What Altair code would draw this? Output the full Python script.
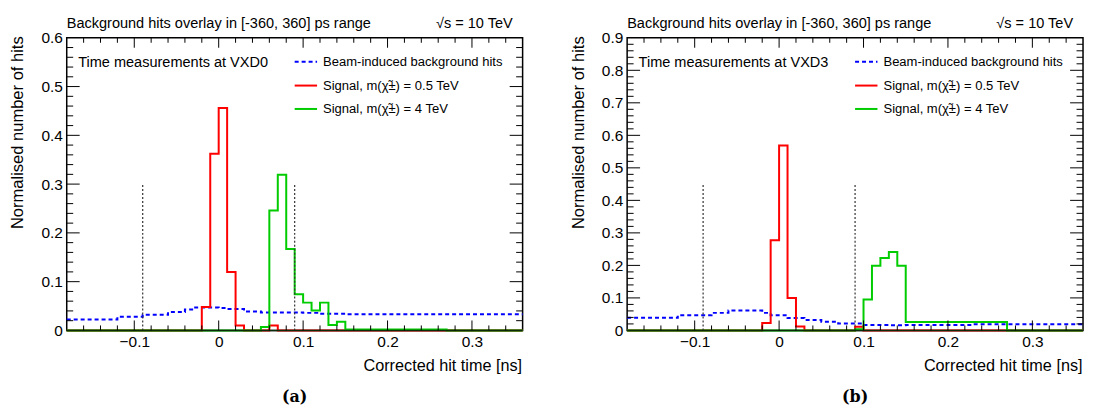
import altair as alt
import pandas as pd

X_MIN, X_MAX = -0.18, 0.36
X_MAJOR = [-0.1, 0.0, 0.1, 0.2, 0.3]
X_MINOR = [-0.16, -0.14, -0.12, -0.08, -0.06, -0.04, -0.02, 0.02, 0.04, 0.06, 0.08,
           0.12, 0.14, 0.16, 0.18, 0.22, 0.24, 0.26, 0.28, 0.32, 0.34]
CUT_X = [-0.09, 0.09]

# ---- panel (a): VXD0 ----
A_Y_MAX = 0.6
A_Y_MAJOR = [0.0, 0.1, 0.2, 0.3, 0.4, 0.5, 0.6]
A_CUT_H = 0.3
BKG_A_STARTS = [-0.18, -0.12, -0.09, -0.06, -0.04, -0.03, 0.00, 0.01, 0.03, 0.05, 0.10, 0.12, 0.15]
BKG_A_VALUES = [0.0226, 0.028, 0.032, 0.0376, 0.043, 0.047, 0.046, 0.044, 0.039, 0.037, 0.036, 0.034, 0.033]
RED_A_STARTS = [-0.02, -0.01, 0.00, 0.01, 0.02, 0.03, 0.06, 0.07]
RED_A_VALUES = [0.048, 0.362, 0.456, 0.120, 0.010, 0.0, 0.010, 0.0]
GRN_A_STARTS = [0.05, 0.06, 0.07, 0.08, 0.09, 0.10, 0.11, 0.12, 0.13, 0.14, 0.15, 0.27]
GRN_A_VALUES = [0.007, 0.246, 0.319, 0.167, 0.074, 0.057, 0.041, 0.057, 0.011, 0.018, 0.002, 0.0]

# ---- panel (b): VXD3 ----
B_Y_MAX = 0.9
B_Y_MAJOR = [0.0, 0.1, 0.2, 0.3, 0.4, 0.5, 0.6, 0.7, 0.8, 0.9]
B_CUT_H = 0.45
BKG_B_STARTS = [-0.18, -0.12, -0.08, -0.06, -0.02, -0.01, 0.01, 0.03, 0.05, 0.07, 0.10, 0.13, 0.15, 0.23]
BKG_B_VALUES = [0.039, 0.047, 0.054, 0.061, 0.054, 0.047, 0.038, 0.032, 0.027, 0.021, 0.017, 0.016, 0.017, 0.019]
RED_B_STARTS = [-0.02, -0.01, 0.00, 0.01, 0.02, 0.03, 0.09, 0.10]
RED_B_VALUES = [0.023, 0.277, 0.569, 0.100, 0.012, 0.0, 0.011, 0.0]
GRN_B_STARTS = [0.09, 0.10, 0.11, 0.12, 0.13, 0.14, 0.15, 0.27]
GRN_B_VALUES = [0.004, 0.095, 0.199, 0.223, 0.241, 0.199, 0.026, 0.0]

HEADER_LEFT = "Background hits overlay in [-360, 360] ps range"
HEADER_RIGHT = "√s = 10 TeV"
LEGEND_LABELS = ["Beam-induced background hits",
                 "Signal, m(χ̃±) = 0.5 TeV",
                 "Signal, m(χ̃±) = 4 TeV"]
X_TITLE = "Corrected hit time [ns]"
Y_TITLE = "Normalised number of hits"

FONT = "Liberation Sans"
W, H = 458, 294
RED, GREEN, BLUE = "#ff0000", "#00cc00", "#0000ff"


def steps(starts, values):
    xs, ys = list(starts), list(values)
    if xs[0] > X_MIN:
        xs = [X_MIN] + xs
        ys = [0.0] + ys
    xs.append(X_MAX)
    ys.append(ys[-1])
    return pd.DataFrame({"t": xs, "v": ys})


def minor_y(y_max):
    n = int(round(y_max / 0.02))
    return [round(i * 0.02, 4) for i in range(1, n) if i % 5 != 0]


def text_layer(txt, x, y, size, align="left", baseline="alphabetic", font=FONT, weight="normal"):
    return alt.Chart(pd.DataFrame({"s": [txt]})).mark_text(
        align=align, baseline=baseline, font=font, fontSize=size, fontWeight=weight, color="black"
    ).encode(x=alt.value(x), y=alt.value(y), text="s:N")


def panel(bkg, red, green, y_max, y_major, cut_h, label, caption):
    xs = alt.Scale(domain=[X_MIN, X_MAX], nice=False, zero=False)
    ys = alt.Scale(domain=[0, y_max], nice=False, zero=False)

    x_axis = alt.Axis(values=X_MAJOR, format=".1~f", ticks=False, tickSize=0, domain=False, grid=False,
                      labelFont=FONT, labelFontSize=15.5, labelPadding=4.5, labelColor="black",
                      labelOverlap=False, labelFlush=False,
                      title=X_TITLE, titleFont=FONT, titleFontSize=16.3, titleFontWeight="normal",
                      titleColor="black", titleAnchor="end", titleAlign="right",
                      titleBaseline="alphabetic", titleX=W - 1, titleY=40)
    y_axis = alt.Axis(values=y_major, format=".1~f", ticks=False, tickSize=0, domain=False, grid=False,
                      labelFont=FONT, labelFontSize=15.5, labelPadding=4.4, labelColor="black",
                      labelOverlap=False, labelFlush=False,
                      title=Y_TITLE, titleFont=FONT, titleFontSize=16.6, titleFontWeight="normal",
                      titleColor="black", titleAnchor="end", titleAngle=270, titleAlign="right",
                      titleBaseline="alphabetic", titleX=-44, titleY=-2)

    def X(f):
        return alt.X(f, scale=xs, axis=x_axis, title=X_TITLE)

    def Y(f):
        return alt.Y(f, scale=ys, axis=y_axis, title=Y_TITLE)

    layers = []
    layers.append(alt.Chart(steps(*bkg)).mark_line(
        interpolate="step-after", color=BLUE, strokeWidth=2, strokeDash=[4, 3]
    ).encode(x=X("t:Q"), y=Y("v:Q")))
    for data, col in ((red, RED), (green, GREEN)):
        layers.append(alt.Chart(steps(*data)).mark_line(
            interpolate="step-after", color=col, strokeWidth=2
        ).encode(x=X("t:Q"), y=Y("v:Q")))

    # cut lines
    cut_df = pd.DataFrame({"t": CUT_X, "v": [0.0] * len(CUT_X), "v1": [cut_h] * len(CUT_X)})
    layers.append(alt.Chart(cut_df).mark_rule(color="#333333", strokeWidth=1.2, strokeDash=[2, 2]).encode(
        x=X("t:Q"), y=Y("v:Q"), y2="v1:Q"))

    # frame bottom edge redrawn over the zero-level histogram lines
    layers.append(alt.Chart(pd.DataFrame({"k": [0]})).mark_rule(color="#0a2a0a", strokeWidth=1.5).encode(
        x=alt.value(0), x2=alt.value(W), y=alt.value(H)))

    # inward ticks
    for vals, ln in ((X_MAJOR, 10), (X_MINOR, 5)):
        df = pd.DataFrame({"t": vals})
        for y0, y1 in ((H, H - ln), (0, ln)):
            layers.append(alt.Chart(df).mark_rule(color="black", strokeWidth=1).encode(
                x=X("t:Q"), y=alt.value(y0), y2=alt.value(y1)))
    for vals, ln in ((y_major[1:-1], 13), (minor_y(y_max), 6.5)):
        df = pd.DataFrame({"v": vals})
        for x0, x1 in ((0, ln), (W, W - ln)):
            layers.append(alt.Chart(df).mark_rule(color="black", strokeWidth=1).encode(
                y=Y("v:Q"), x=alt.value(x0), x2=alt.value(x1)))

    # header
    layers.append(text_layer(HEADER_LEFT, 0, -10.3, 14.6))
    layers.append(text_layer(HEADER_RIGHT, W - 10, -10.3, 14.6, align="right"))
    layers.append(text_layer(label, 11.5, 29.7, 14.6))

    # legend
    leg_y = [24, 48, 71.5]
    leg_style = [(BLUE, [4, 3]), (RED, None), (GREEN, None)]
    for yy, (col, dash), txt in zip(leg_y, leg_style, LEGEND_LABELS):
        kw = dict(color=col, strokeWidth=2)
        if dash:
            kw["strokeDash"] = dash
        layers.append(alt.Chart(pd.DataFrame({"k": [0]})).mark_rule(**kw).encode(
            x=alt.value(229), x2=alt.value(251.5), y=alt.value(yy)))
        layers.append(text_layer(txt, 257.5, yy, 13.1, baseline="middle"))

    # caption
    layers.append(text_layer(caption, W / 2, 366, 16, align="center", baseline="alphabetic",
                             font="DejaVu Serif", weight="bold"))

    return alt.layer(*layers).properties(width=W, height=H)


left = panel((BKG_A_STARTS, BKG_A_VALUES), (RED_A_STARTS, RED_A_VALUES), (GRN_A_STARTS, GRN_A_VALUES),
             A_Y_MAX, A_Y_MAJOR, A_CUT_H, "Time measurements at VXD0", "(a)")
right = panel((BKG_B_STARTS, BKG_B_VALUES), (RED_B_STARTS, RED_B_VALUES), (GRN_B_STARTS, GRN_B_VALUES),
              B_Y_MAX, B_Y_MAJOR, B_CUT_H, "Time measurements at VXD3", "(b)")

chart = alt.hconcat(left, right, spacing=105, bounds="flush").properties(
    padding={"left": 1, "top": 5, "right": 0, "bottom": 0},
    background="white",
).configure_view(stroke="black", strokeWidth=1.5)

chart.save("out.html", embed_options={"renderer": "svg", "actions": False})
